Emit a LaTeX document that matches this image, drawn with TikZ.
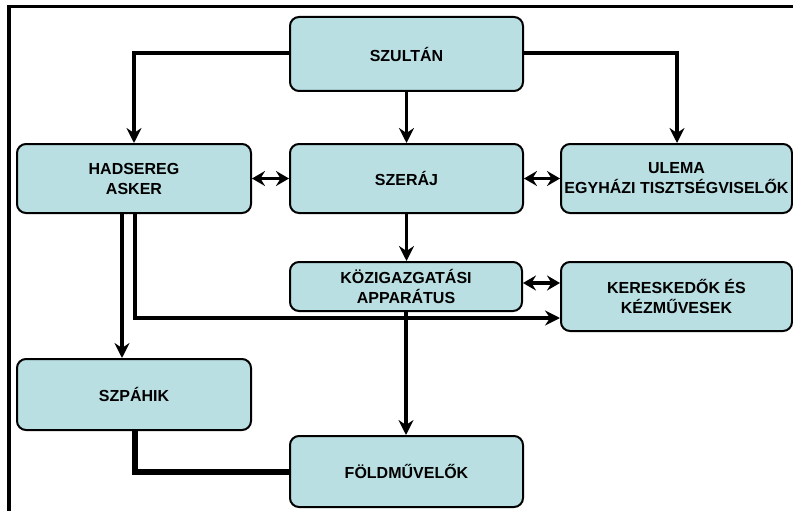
\documentclass[tikz,border=0pt]{standalone}
\usepackage{fontspec}
\setmainfont{Liberation Sans}
\usetikzlibrary{arrows.meta,calc}
\definecolor{boxfill}{HTML}{B9DFE2}
\tikzset{
  box/.style={draw=black, line width=2pt, fill=boxfill, rounded corners=9pt,
    align=center, inner sep=0pt, font=\fontsize{16}{20}\selectfont\bfseries},
  arr/.style={line width=3.6pt, -{Stealth[length=15pt,width=15pt,inset=5pt]}},
  darr/.style={line width=3.6pt, {Stealth[length=13pt,width=15pt,inset=4.5pt]}-{Stealth[length=13pt,width=15pt,inset=4.5pt]}},
  heavy/.style={line width=6pt},
  frameline/.style={line width=3.6pt}
}
\begin{document}
\begin{tikzpicture}[x=1pt,y=-1pt]
\useasboundingbox (0,0) rectangle (793,511);
\clip (0,0) rectangle (793,511);
\coordinate (fa) at (800,6.5);
\coordinate (fb) at (9,6.5);
\coordinate (fc) at (9,520);
\draw[frameline] (fa) -- (fb) -- (fc);

\node[box, minimum width=233pt, minimum height=74pt] (sz) at (406.5,54) {SZULTÁN};
\node[box, minimum width=234pt, minimum height=69pt] (had) at (134,178.5) {HADSEREG\\ASKER};
\node[box, minimum width=233pt, minimum height=69pt] (ser) at (406.5,178.5) {SZERÁJ};
\node[box, minimum width=231pt, minimum height=69pt] (ul) at (676.5,178.5) {ULEMA\\EGYHÁZI TISZTSÉGVISELŐK};
\node[box, minimum width=232pt, minimum height=49pt] (koz) at (406,286.5) {KÖZIGAZGATÁSI\\APPARÁTUS};
\node[box, minimum width=231pt, minimum height=69pt] (ker) at (676.5,296.5) {KERESKEDŐK ÉS\\KÉZMŰVESEK};
\node[box, minimum width=234pt, minimum height=71pt] (szp) at (134,394.5) {SZPÁHIK};
\node[box, minimum width=233pt, minimum height=71pt] (fold) at (406.5,471.5) {FÖLDMŰVELŐK};

\coordinate (kozE) at ([yshift=3.5pt]koz.east);
\coordinate (kerW) at ([yshift=-21.5pt]ker.west);
\coordinate (hadS1) at ([xshift=1pt]had.south);
\coordinate (hadS2) at ([xshift=-12pt]had.south);
\coordinate (szpN) at ([xshift=-12pt]szp.north);
\coordinate (szpS) at ([xshift=1pt]szp.south);

\draw[arr] ([yshift=1pt]sz.west) -| (had.north);
\draw[arr] ([yshift=1pt]sz.east) -| ([xshift=0.5pt]ul.north);
\draw[arr] (sz.south) -- (sz.south |- ser.north);
\draw[darr] (had.east) -- (ser.west);
\draw[darr] (ser.east) -- (ul.west);
\draw[arr] (ser.south) -- (ser.south |- koz.north);
\draw[darr] (kozE) -- (ker.west |- kozE);
\draw[arr] (hadS1) |- (kerW);
\draw[arr] (hadS2) -- (szpN);
\draw[arr] (koz.south) -- (koz.south |- fold.north);
\draw[heavy] (szpS) |- (fold.west);
\end{tikzpicture}
\end{document}
